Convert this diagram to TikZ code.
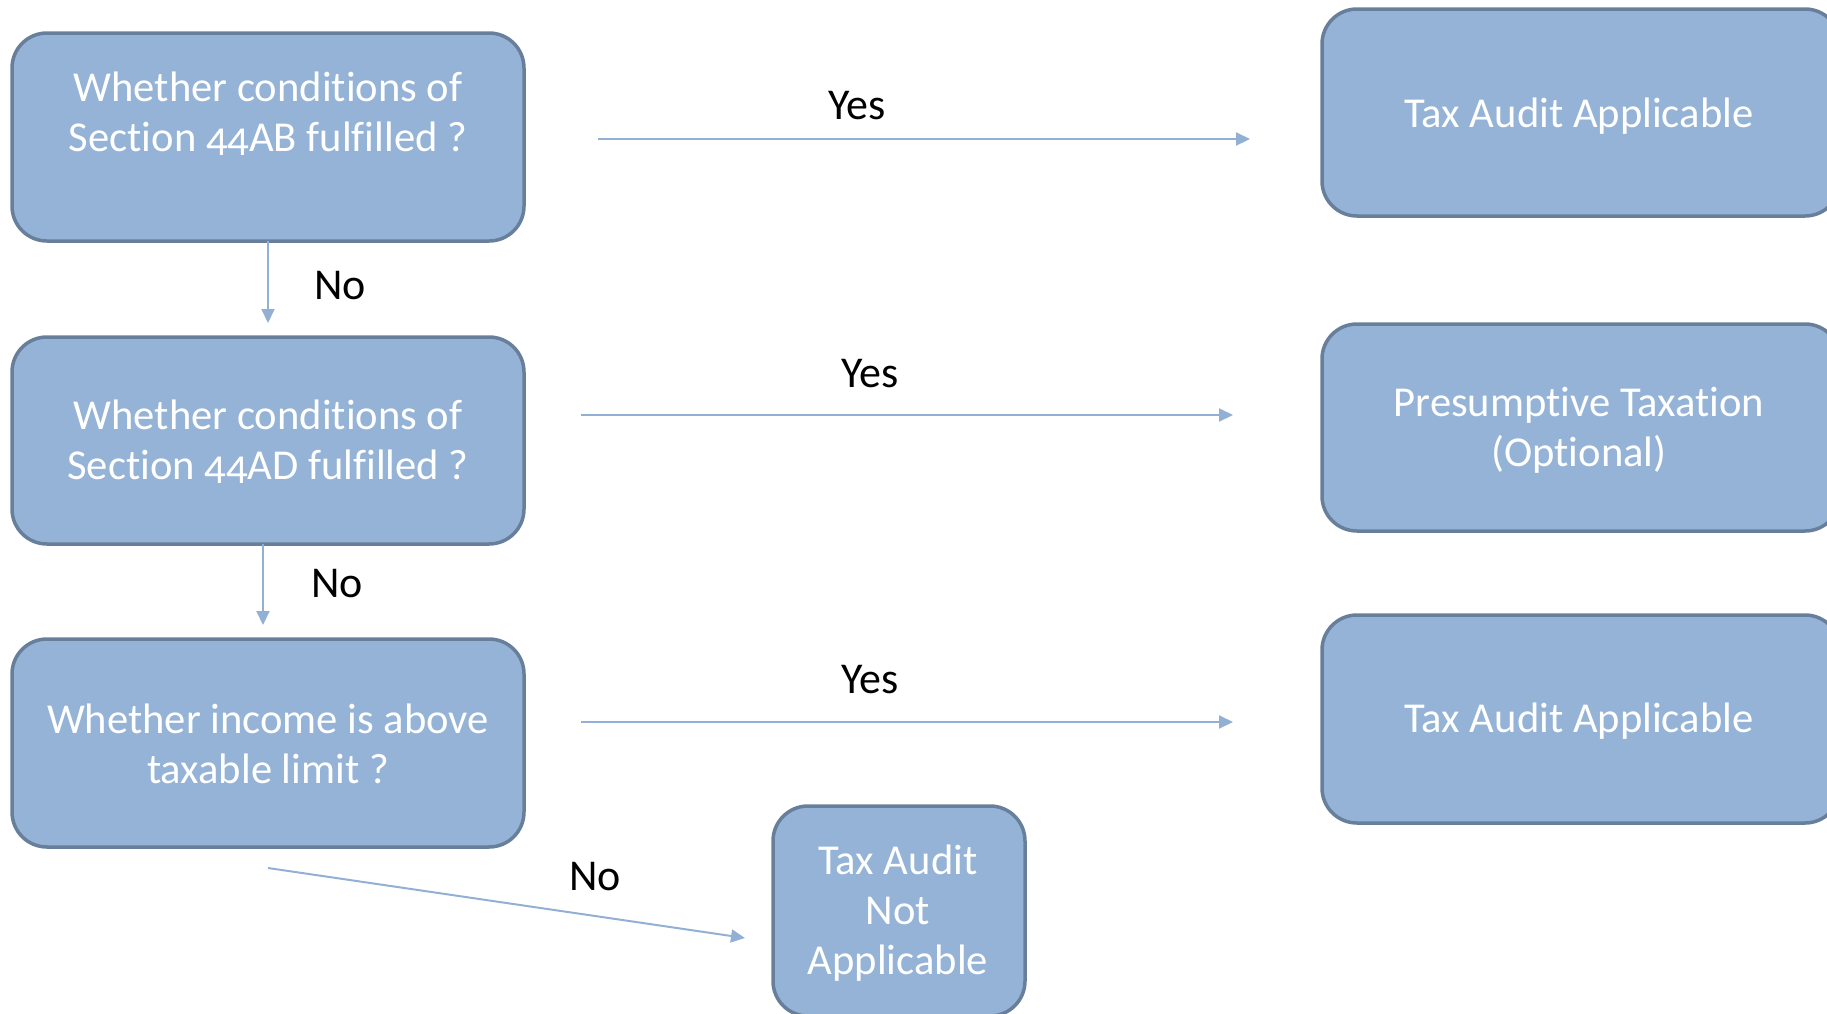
\documentclass[tikz,border=0pt]{standalone}
\usepackage{fontspec}
\setmainfont{Carlito}[Numbers=OldStyle,Ligatures=NoCommon]
\usetikzlibrary{arrows.meta}
\definecolor{boxfill}{RGB}{149,179,214}
\definecolor{boxline}{RGB}{104,127,155}
\definecolor{arrowcol}{RGB}{146,176,212}
\begin{document}
\begin{tikzpicture}[x=0.5pt,y=-0.5pt,
  box/.style={draw=boxline, line width=1.75pt, fill=boxfill, rounded corners=17.5pt, inner sep=0pt},
  boxtext/.style={text=white, align=center, font=\fontsize{21.3pt}{25pt}\selectfont},
  lbl/.style={text=black, font=\fontsize{22pt}{25pt}\selectfont},
  conn/.style={draw=arrowcol, line width=1pt, -{Triangle[length=7pt,width=6.5pt]}}]
\useasboundingbox (0,0) rectangle (1827,1013);
% boxes
\node[box, minimum width=256pt, minimum height=104pt] (q1) at (268,137) {};
\node[box, minimum width=256pt, minimum height=103.5pt] (q2) at (268,440.5) {};
\node[box, minimum width=256pt, minimum height=104pt] (q3) at (268,743) {};
\node[box, minimum width=259pt, minimum height=103.5pt] (r1) at (1581,112.5) {};
\node[box, minimum width=259pt, minimum height=103.5pt] (r2) at (1581,427.5) {};
\node[box, minimum width=259pt, minimum height=104pt] (r3) at (1581,719) {};
\node[box, minimum width=126pt, minimum height=105pt] (na) at (899,911) {};
% texts
\node[boxtext] (t1) at (268,114) {Whether conditions of\\Section 44AB fulfilled ?};
\node[boxtext] (t2) at (268,442) {Whether conditions of\\Section 44AD fulfilled ?};
\node[boxtext] (t3) at (268,744) {Whether income is above\\taxable limit ?};
\node[boxtext] (t4) at (1579,116) {Tax Audit Applicable};
\node[boxtext] (t5) at (1579,430) {Presumptive Taxation\\(Optional)};
\node[boxtext] (t6) at (1579,721) {Tax Audit Applicable};
\node[boxtext] (t7) at (898,913) {Tax Audit\\Not\\Applicable};
% connector ends
\coordinate (y1s) at (598,139); \coordinate (y1e) at (1250,139);
\coordinate (y2s) at (581,415); \coordinate (y2e) at (1233,415);
\coordinate (y3s) at (581,722); \coordinate (y3e) at (1233,722);
\coordinate (n1s) at (268,241); \coordinate (n1e) at (268,323);
\coordinate (n2s) at (263,544); \coordinate (n2e) at (263,625);
\coordinate (n3s) at (268,868); \coordinate (n3e) at (745,938);
\draw[conn] (y1s) -- (y1e);
\draw[conn] (y2s) -- (y2e);
\draw[conn] (y3s) -- (y3e);
\draw[conn] (n1s) -- (n1e);
\draw[conn] (n2s) -- (n2e);
\draw[conn] (n3s) -- (n3e);
% labels
\node[lbl] (l1) at (857,106) {Yes};
\node[lbl] (l2) at (870,374) {Yes};
\node[lbl] (l3) at (870,680) {Yes};
\node[lbl] (l4) at (340,286) {No};
\node[lbl] (l5) at (337,584) {No};
\node[lbl] (l6) at (595,877) {No};
\end{tikzpicture}
\end{document}
